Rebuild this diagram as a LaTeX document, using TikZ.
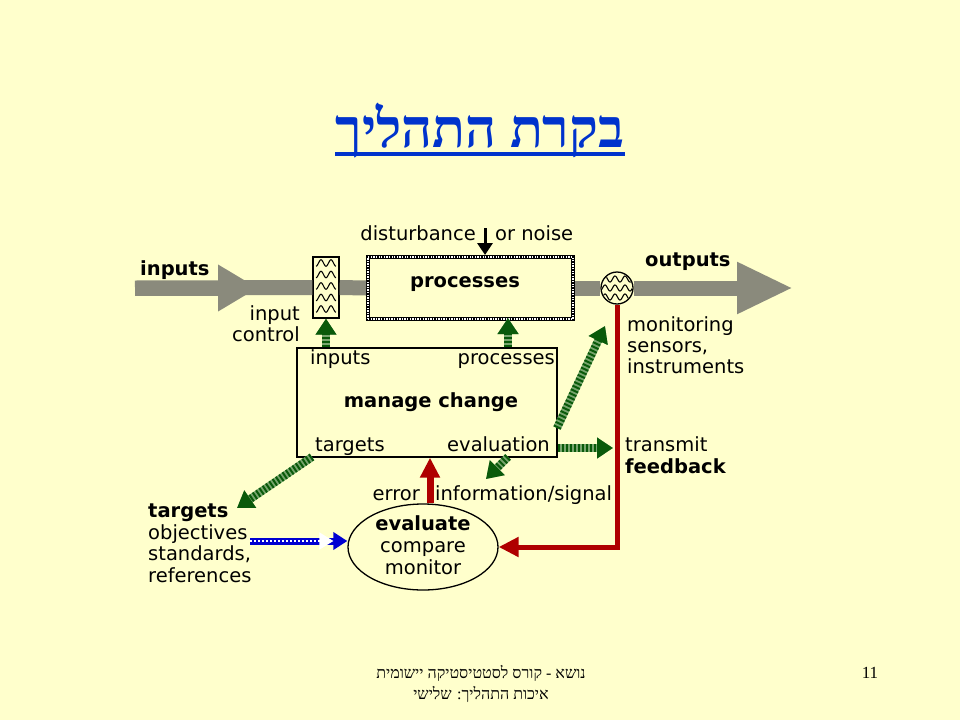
\documentclass[tikz,border=0pt]{standalone}
\usepackage{fontspec}
\setmainfont{DejaVu Sans}
\newfontfamily\hebserif[Script=Hebrew]{Liberation Serif}
\usetikzlibrary{arrows.meta,shapes.geometric}
\TeXXeTstate=1
\definecolor{bg}{RGB}{255,255,204}
\definecolor{titleblue}{RGB}{0,51,204}
\definecolor{shaftgray}{RGB}{138,138,124}
\definecolor{grndark}{RGB}{10,90,10}
\definecolor{grnlight}{RGB}{120,165,110}
\definecolor{fbred}{RGB}{175,0,0}
\definecolor{dotblue}{RGB}{0,0,210}
\begin{document}
\begin{tikzpicture}[x=1pt,y=-1pt,
  txt/.style={font=\fontsize{19.5}{22}\selectfont, inner sep=0pt},
  btxt/.style={font=\fontsize{19.5}{22}\selectfont\bfseries, inner sep=0pt},
  shaft/.style={draw=shaftgray, line width=15pt},
  grn/.style={draw=grnlight, line width=8pt, -{Triangle[length=16pt,width=20pt]},
     postaction={draw=grndark, line width=8pt, dash pattern=on 2pt off 2pt, -{Triangle[length=16pt,width=20pt]}}},
  redln/.style={draw=fbred, line width=5pt},
  boxthin/.style={draw=black, line width=1.3pt, fill=bg, inner sep=0pt},
]
\fill[bg] (0,0) rectangle (960,720);
\useasboundingbox (0,0) rectangle (960,720);

% title
\node[anchor=base, inner sep=0pt, text=titleblue, font=\hebserif\bfseries\fontsize{54}{60}\selectfont] (title) at (480,147) {\beginR בקרת התהליך\endR};
\draw[titleblue, line width=4pt] ([yshift=-7pt]title.base west) -- ([yshift=-7pt]title.base east);

% main boxes
\node[boxthin, minimum width=26pt, minimum height=61pt] (filter) at (326,287.5) {};
\node[draw=black, line width=4pt, fill=bg, minimum width=205pt, minimum height=62pt, inner sep=0pt,
      postaction={draw=white, line width=1.2pt, dash pattern=on 1.3pt off 1.3pt}] (proc) at (470.5,288) {};
\node[btxt] (proclbl) at (465,284) {processes};
\node[boxthin, circle, minimum size=32pt] (sensor) at (617,288) {};
\node[boxthin, minimum width=260pt, minimum height=109pt] (mbox) at (427,402.5) {};
\node[draw=black, line width=1.3pt, ellipse, minimum width=150pt, minimum height=86pt, inner sep=0pt] (evalell) at (423,547) {};

% shaft
\coordinate (inStart) at (135,288);
\coordinate (inTip) at (258,288);
\coordinate (outEnd) at (793,288);
\draw[shaft] (inStart) -- (filter.west);
\draw[shaft, -{Triangle[length=40pt,width=44pt]}] (inStart) -- (inTip);
\draw[shaft] (filter.east) -- (proc.west);
\draw[shaft] (proc.east) -- (sensor.west);
\draw[shaft, -{Triangle[length=56pt,width=48pt]}] (sensor.east) -- (outEnd);

% wavy patterns
\foreach \yy in {263,274.5,286,297.5,309}
  \draw[line width=1.1pt] plot[domain=0:20,samples=41,smooth] ({316+\x},{\yy+3.2*cos(\x*360/10)});
\begin{scope}
  \clip (sensor.center) circle (15pt);
  \foreach \yy in {279,288,297}
    \draw[line width=1.1pt] plot[domain=0:34,samples=61,smooth] ({600+\x},{\yy+3*cos(\x*360/10)});
\end{scope}

% disturbance
\coordinate (distTop) at (485,228);
\draw[black, line width=3pt, -{Triangle[length=12pt,width=15pt]}] (distTop) -- (distTop |- proc.north);
\node[txt, anchor=base east] (dist) at (476,240) {disturbance};
\node[txt, anchor=base west] (noise) at (495,240) {or noise};

% labels on main line
\node[btxt, anchor=base west] (inputs) at (140,275) {inputs};
\node[btxt, anchor=base west] (outputs) at (645,266) {outputs};
\node[txt, anchor=base east] (inctl1) at (300,320) {input};
\node[txt, anchor=base east] (inctl2) at (300,341) {control};
\node[txt, anchor=base west] (mon1) at (627,331) {monitoring};
\node[txt, anchor=base west] (mon2) at (627,352) {sensors,};
\node[txt, anchor=base west] (mon3) at (627,373) {instruments};

% manage change box labels
\node[txt, anchor=base west] (mbin) at (310,364) {inputs};
\node[txt, anchor=base east] (mbpr) at (555,364) {processes};
\node[btxt] (mbmc) at (431,402) {manage change};
\node[txt, anchor=base west] (mbtg) at (315,451) {targets};
\node[txt, anchor=base east] (mbev) at (550,451) {evaluation};

% feedback labels
\node[txt, anchor=base west] (transmit) at (625,451) {transmit};
\node[btxt, anchor=base west] (feedback) at (625,473) {feedback};
\node[txt, anchor=base east] (error) at (420,500) {error};
\node[txt, anchor=base west] (info) at (435,500) {information/signal};

% targets
\node[btxt, anchor=base west] (targets) at (148,517) {targets};
\node[txt, anchor=base west] (obj) at (148,539) {objectives};
\node[txt, anchor=base west] (std) at (148,560) {standards,};
\node[txt, anchor=base west] (refs) at (148,582) {references};

% ellipse text
\node[btxt, anchor=base] (evlbl) at (423,530) {evaluate};
\node[txt, anchor=base] (cmplbl) at (423,552) {compare};
\node[txt, anchor=base] (monlbl) at (423,574) {monitor};

% green arrows
\draw[grn] (mbox.north -| filter.south) -- (filter.south);
\coordinate (procIn) at (508,318);
\draw[grn] (mbox.north -| procIn) -- (procIn);
\coordinate (g3a) at (557,428);
\coordinate (g3b) at (605,326);
\draw[grn] (g3a) -- (g3b);
\coordinate (g4a) at (558,448);
\coordinate (g4b) at (613,448);
\draw[grn] (g4a) -- (g4b);
\coordinate (g5a) at (508,457);
\coordinate (g5b) at (486,479);
\draw[grn] (g5a) -- (g5b);
\coordinate (g6a) at (312,457);
\coordinate (g6b) at (237,508);
\draw[grn] (g6a) -- (g6b);

% blue arrow
\coordinate (blueStart) at (250,541);
\draw[draw=dotblue, line width=7pt, -{Triangle[length=14pt,width=17pt]},
  postaction={draw=white, line width=1.6pt, dash pattern=on 1.5pt off 2.5pt, shorten >=14pt}]
  (blueStart) -- (blueStart -| evalell.west);

% red feedback
\draw[redln, -{Triangle[length=20pt,width=19pt]}] (sensor.south) -- (sensor.south |- evalell.east) -- (evalell.east);
\draw[fbred, line width=7pt, -{Triangle[length=20pt,width=19pt]}] ([xshift=7pt]evalell.north) -- ([xshift=7pt]evalell.north |- mbox.south);

% footer
\node[font=\hebserif\fontsize{16}{21}\selectfont, align=center, inner sep=0pt] (footer) at (481,684)
  {\beginR נושא - קורס לסטטיסטיקה יישומית\endR\\ \beginR איכות התהליך: שלישי\endR};
\node[font=\hebserif\fontsize{17}{21}\selectfont, inner sep=0pt] (pagenum) at (870,673) {11};
\end{tikzpicture}
\end{document}
